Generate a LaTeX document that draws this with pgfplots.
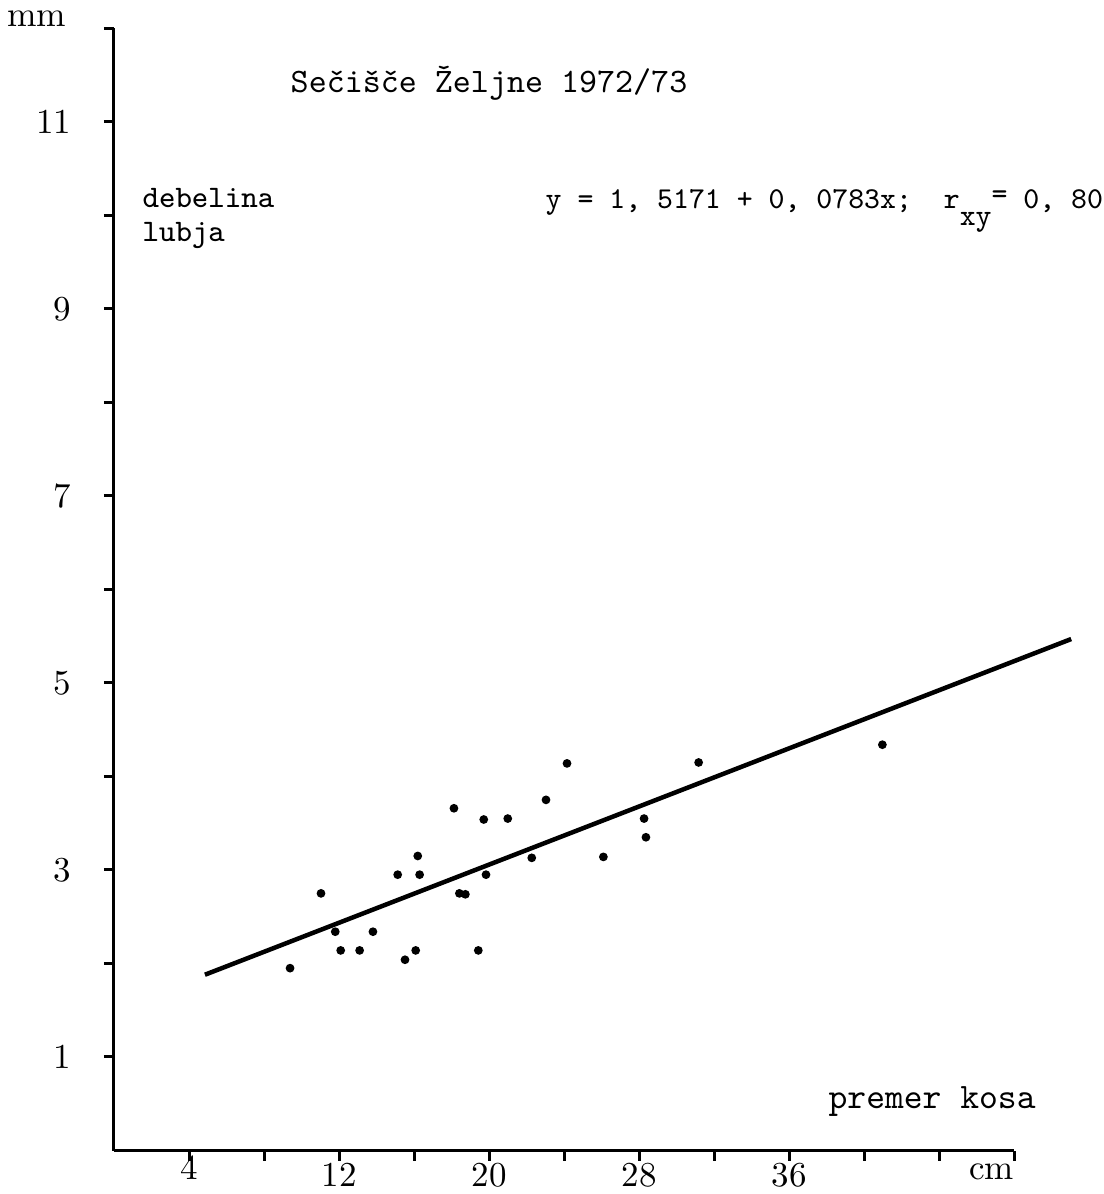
\documentclass[border=0pt]{standalone}
\usepackage{fontspec}
\usepackage{pgfplots}
\pgfplotsset{compat=1.18}
\pgfplotstableread{
x y
9.39 1.95
11.04 2.75
11.80 2.34
12.09 2.14
13.10 2.14
13.81 2.34
15.13 2.95
15.52 2.04
16.09 2.14
16.20 3.15
16.30 2.95
18.13 3.66
18.42 2.75
18.74 2.74
19.43 2.14
19.72 3.54
19.84 2.95
21.00 3.55
22.28 3.13
23.04 3.75
24.16 4.14
26.10 3.14
28.27 3.55
28.37 3.35
31.18 4.15
40.98 4.34
}\points
\begin{document}
\begin{tikzpicture}
\begin{axis}[
  scale only axis, width=270pt, height=336.6pt,
  xmin=0, xmax=48, ymin=0, ymax=12,
  axis x line*=bottom, axis y line*=left,
  axis line style={line width=0.9pt},
  tick align=outside, major tick length=3pt,
  tick style={line width=0.9pt, black},
  xtick={4,8,...,48}, ytick={1,2,...,12},
  xticklabels={\raisebox{2.4pt}[\height][\depth]{4},{},12,{},20,{},28,{},36,{},{},\makebox[0pt][r]{cm}},
  yticklabels={1,{},3,{},5,{},7,{},9,{},11,{}},
  xticklabel style={anchor=north, inner sep=0pt, yshift=-0.75pt, font=\fontsize{10.5}{12}\selectfont},
  yticklabel style={anchor=east, inner sep=0pt, xshift=-9.6pt, font=\fontsize{10.5}{12}\selectfont},
  clip=false,
]
\addplot[only marks, mark=*, mark size=1.1pt, black] table {\points};
\addplot[black, line width=1.35pt] coordinates {(4.85,1.88) (51.05,5.47)};
\node[anchor=base east, inner sep=0pt, font=\fontsize{10.6}{12}\selectfont] at (axis cs:-2.51,12.02) {mm};
\node[anchor=base west, inner sep=0pt, font=\ttfamily\fontsize{10.3}{12}\selectfont] at (axis cs:9.39,11.32) {Sečišče Željne 1972/73};
\node[anchor=base west, inner sep=0pt, font=\ttfamily\fontsize{9.4}{12}\selectfont] at (axis cs:1.49,10.09) {debelina};
\node[anchor=base west, inner sep=0pt, font=\ttfamily\fontsize{9.4}{12}\selectfont] at (axis cs:1.49,9.72) {lubja};
\node[anchor=base west, inner sep=0pt, font=\ttfamily\fontsize{9.1}{12}\selectfont] at (axis cs:22.99,10.08) {y = 1, 5171 + 0, 0783x;\ \ r\raisebox{-5.1pt}{xy}\raisebox{1.5pt}{=} 0, 80};
\node[anchor=base west, inner sep=0pt, font=\ttfamily\fontsize{10.75}{12}\selectfont] at (axis cs:38.08,0.45) {premer kosa};
\end{axis}
\pgfresetboundingbox
\path (-34.2pt,-13.05pt) rectangle (297pt,345.15pt);
\end{tikzpicture}
\end{document}
